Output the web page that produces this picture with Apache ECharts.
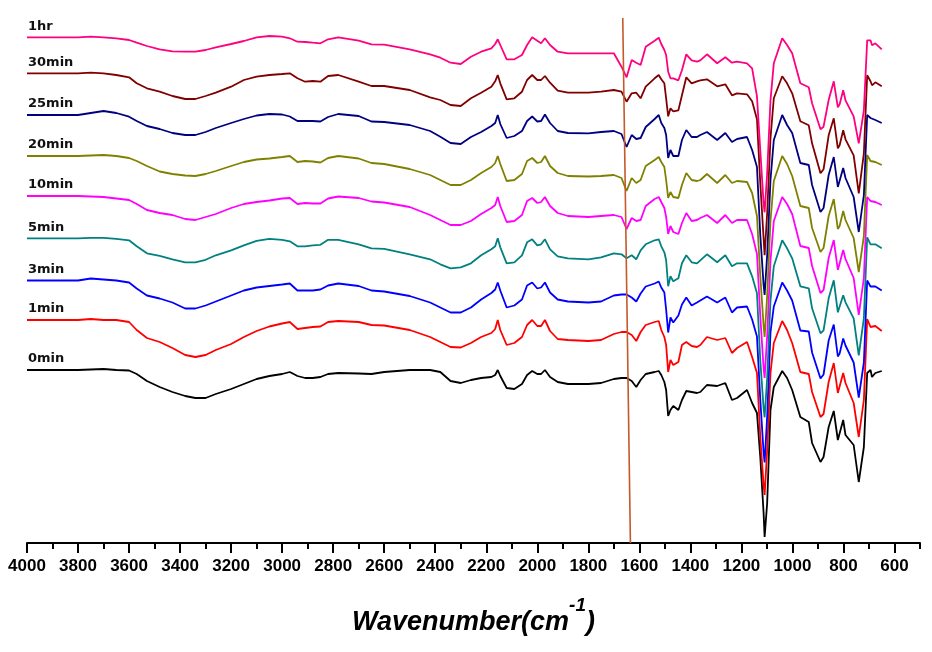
<!DOCTYPE html>
<html>
<head>
<meta charset="utf-8">
<script src="https://cdn.jsdelivr.net/npm/echarts@6.0.0/dist/echarts.min.js"></script>
<style>
html,body{margin:0;padding:0;background:#fff;}
#chart{width:932px;height:652px;}
</style>
</head>
<body>
<div id="chart"></div>
<script>
// Wavenumber sample points (cm-1)
const wavenumbers = [4000,3900,3800,3750,3700,3650,3600,3570,3530,3480,
3430,3380,3340,3300,3260,3200,3150,3100,3050,3000,
2970,2940,2910,2880,2850,2820,2780,2700,2650,2600,
2500,2420,2380,2340,2300,2260,2220,2180,2165,2155,
2145,2120,2090,2060,2040,2020,2000,1985,1970,1950,
1920,1880,1800,1750,1700,1670,1650,1630,1612,1595,
1575,1540,1524,1514,1502,1495,1487,1478,1467,1447,
1433,1416,1395,1374,1361,1335,1295,1263,1237,1217,
1178,1158,1139,1126,1113,1109,1099,1086,1073,1040,
1021,1001,969,936,923,890,878,858,838,822,
815,801,792,760,740,720,707,694,688,675,
650];

// Series names (reaction time) and stacking offsets (baseline level of each trace)
const seriesNames = ['0min','1min','3min','5min','10min','20min','25min','30min','1hr'];
const baselines = [173, 223, 262.5, 304.7, 347, 387, 428, 469.7, 505.7];

// Relative transmittance of each trace (same units as offsets)
const t0min = [0,0,0,0.5,1,0,-0.5,-4,-11,-17,
-22,-26,-28,-28,-24,-19,-14,-9,-6,-4,
-2,-6,-8,-8,-7,-4,-3,-3.5,-4,-2,
0,0,-2,-11,-13,-10,-8,-7,-5,0,
-6,-18,-19,-14,-5,-1,-4,-4,0,-7,
-12,-14,-14,-13,-9,-8,-8,-11,-17,-10,
-4,-2,-1,-5,-12,-20,-46,-40,-36,-40,
-30,-21,-22,-23,-22,-15,-16,-13,-30,-28,
-20,-33,-43,-87,-143,-167,-133,-40,-17,-1,
-8,-20,-47,-52,-73,-92,-87,-57,-41,-70,
-72,-50,-65,-75,-112,-77,-3,0,-7,-3,
-1];
const t1min = [0,0,0,1,0,0,-2,-10,-18,-22,
-28,-35,-37,-35,-30,-24,-17,-11,-6.5,-3.5,
-2,-9,-8,-7,-6.5,-2,-1,-2,-5,-5.5,
-10,-17,-22,-27,-27.5,-23,-17,-13,-9,0,
-10,-25,-23,-17,-5,0,-6,-6,0,-11,
-19,-20,-21,-20,-14,-12,-12,-15,-21,-12,
-5,-2,-1,-10,-17,-25,-52,-40,-45,-42,
-25,-22,-26,-27,-25,-17,-20,-18,-33,-28,
-22,-37,-53,-117,-165,-175,-130,-53,-23,-1,
-10,-23,-52,-54,-72,-97,-94,-62,-43,-73,
-71,-53,-63,-83,-117,-80,1,-7,-7,-6,
-11];
const t3min = [0,0,0,2,1,0,-2,-8,-15,-18,
-22,-28,-28,-25,-21,-15,-10,-7,-5.5,-4,
-3,-10,-10,-10,-9,-5,-3,-5.5,-10,-11,
-15.5,-22,-27,-32,-32,-27,-19,-12.5,-9,-2,
-10,-27,-25,-19,-5,-2,-8,-7,-2,-12,
-19,-21,-22,-21,-15,-14,-14,-17,-21,-13,
-6,-3,-1,-7,-12,-29,-52,-37,-42,-35,
-24,-17,-25,-22,-20,-16,-22,-17,-32,-27,
-26,-39,-56,-119,-172,-182,-136,-52,-26,-2,
-10,-20,-50,-51,-72,-98,-94,-60,-44,-76,
-73,-58,-65,-82,-117,-82,0,-6,-4,-6,
-10];
const t5min = [0,0,0,0.5,0.5,-0.5,-2,-8,-15,-17.5,
-21,-24,-24,-21.5,-17,-12,-7,-2.5,-0.5,-1.5,
-3,-8,-8,-7,-6.5,-1.5,-1.5,-6,-10,-10.5,
-16,-21,-26,-30,-29,-25,-17,-11,-8,0,
-9,-25,-24,-17,-4,-1,-7,-6,-1,-11,
-18,-20,-21,-19,-15,-16,-20,-17,-21,-12,
-6,-2,-1,-8,-14,-22,-48,-38,-43,-40,
-25,-17,-24,-25,-22,-16,-24,-17,-28,-25,
-25,-38,-55,-122,-170,-179,-140,-62,-28,-2,
-10,-20,-48,-50,-70,-95,-92,-60,-42,-74,
-72,-57,-64,-80,-117,-80,1,-6,-4,-6,
-10];
const t10min = [0,0,0,-0.5,-1,-2.5,-4,-8,-14,-17,
-19,-23,-24,-21,-18,-12,-8,-6,-4.5,-2.5,
-2,-8,-7,-7.5,-7.5,-2.5,-0.5,-2,-5.5,-6.5,
-11,-19,-24,-29,-29,-25,-18,-12,-9,-1,
-10,-26,-25,-19,-5,-2,-7,-6,-1,-10,
-17,-20,-21,-20,-19,-21,-33,-22,-25,-24,
-10,-3,-1,-6,-12,-21,-38,-30,-36,-38,
-27,-17,-25,-24,-22,-19,-27,-19,-27,-24,
-24,-38,-58,-120,-172,-182,-140,-65,-25,-1,
-8,-18,-50,-52,-70,-97,-94,-62,-44,-74,
-72,-54,-63,-82,-119,-82,-1,-5,-7,-6,
-9];
const t20min = [0,0,0,0.5,1,0,-2,-5,-10,-15.5,
-18,-19.5,-20,-18,-15,-10,-6,-3.5,-2.5,-1,
0,-6,-5,-5.5,-6.5,-2,0,-2.5,-7,-8,
-13,-19,-24,-29,-29,-24,-17,-11,-7,0,
-8,-25,-24,-18,-5,-2,-7,-6,0,-10,
-17,-20,-20.5,-20,-19,-22,-35,-22,-27,-24,
-10,-4,-1,-6,-11,-24,-42,-36,-41,-42,
-29,-17,-24,-25,-24,-18,-27,-19,-27,-25,
-26,-37,-60,-120,-170,-181,-140,-65,-25,0,
-8,-20,-50,-52,-72,-96,-92,-60,-43,-73,
-70,-55,-64,-82,-116,-80,1,-5,-6,-6,
-9];
const t25min = [0,0,0,2,4,2,-1.7,-6,-11,-14,
-18,-20,-20,-17,-13,-8,-4,-0.5,1,0.5,
-1.5,-6,-6,-6,-6.5,-2,1,-1,-6.5,-7,
-10,-16,-21.7,-28,-29,-22,-17,-11,-8,0,
-9,-23,-21,-16,-6,-1.5,-6.5,-6,0.5,-8,
-16,-18,-18.3,-17,-16,-19,-32,-20,-24,-23,
-12,-4,0,-8,-13,-20,-43,-35,-41,-41,
-25,-15,-22,-22,-20,-17,-25,-18,-27,-24,
-22,-35,-52,-120,-170,-180,-140,-65,-25,0,
-10,-18,-48,-50,-70,-97,-93,-60,-42,-72,
-70,-53,-63,-82,-117,-80,0,-3,-5,-5,
-8];
const t30min = [0,0,0,0.6,0,-1.7,-4,-10,-15,-18.4,
-22.7,-25.7,-25.7,-22.7,-19.4,-13.4,-6.7,-3.4,-1.7,-0.7,
0,-5,-8.4,-7.7,-8.4,-2.7,-1.7,-8.4,-12.7,-12.7,
-16.7,-24,-26.7,-31.7,-32.7,-25,-19.4,-13.4,-8,-1.7,
-10,-26,-25,-18.4,-6.7,-1.7,-6.7,-6.7,-2.7,-9.4,
-17.4,-19.4,-19.4,-18.4,-16.7,-18.4,-28.4,-20,-19.4,-25,
-13.4,-5,-1.7,-6,-10,-25,-43,-35,-38,-37,
-22,-4,-10,-8,-7,-6,-13,-11,-22,-20,
-21,-28,-46,-110,-165,-182,-140,-65,-25,-3,
-10,-20,-48,-52,-70,-100,-96,-62,-45,-75,
-72,-57,-66,-82,-120,-80,-2,-8,-12,-9,
-13];
const t1hr = [0,0,0,0.6,0,-1,-2.7,-5.4,-8.7,-12,
-14,-14.4,-14.4,-12.7,-10,-6.7,-3.7,0,1.3,0.6,
-1,-4.4,-4.7,-5.4,-6,-2,0,-3.4,-7,-7.4,
-12,-17,-20.4,-25.4,-26.7,-19.4,-14.4,-11,-6.7,-2,
-7.7,-22,-22,-17.7,-7.7,0,-3.4,-6,-1,-7.7,
-14.4,-16,-16,-16,-16,-29.4,-40,-22.7,-25.4,-27.7,
-9.4,-3.4,-0.4,-6.7,-12.7,-17.7,-34.4,-41,-41,-43,
-33,-17,-23,-24.4,-23,-17,-26,-20,-25.4,-24.4,
-26,-31,-59,-113,-166,-175,-136,-63,-26,-1,
-7.7,-16,-46,-50,-66,-92,-89.4,-62.7,-44,-70,
-67,-53,-63,-79,-106,-73,-3,-3,-8,-6,
-12];

const spectra = [t0min, t1min, t3min, t5min, t10min, t20min, t25min, t30min, t1hr];

// Reference marker line (slightly slanted, near 1650 cm-1)
const markerWavenumbers = [1665, 1635];
const markerLevels = [525, 0];

// Axis ticks and labels
const tickLabels = [4000,3800,3600,3400,3200,3000,2800,2600,2400,2200,2000,1800,1600,1400,1200,1000,800,600];
const minorTicks = [3900,3700,3500,3300,3100,2900,2700,2500,2300,2100,1900,1700,1500,1300,1100,900,700,500];

const colors = ['#000000','#ff0000','#0000ff','#008080','#ff00ff','#808000','#000080','#800000','#ff0080'];

const chart = echarts.init(document.getElementById('chart'), null, {renderer:'canvas'});

const series = spectra.map((arr, i) => ({
  type: 'line',
  name: seriesNames[i],
  data: wavenumbers.map((w, j) => [w, baselines[i] + arr[j]]),
  showSymbol: false,
  symbol: 'none',
  smooth: false,
  lineStyle: {color: colors[i], width: 1.8},
  itemStyle: {color: colors[i]},
  z: 2 + i,
  silent: true,
  markPoint: {
    symbol: 'circle',
    symbolSize: 0,
    silent: true,
    data: [{coord: [wavenumbers[0], baselines[i]], name: seriesNames[i]}],
    label: {
      show: true,
      position: 'right',
      distance: 1,
      offset: [0, -11],
      formatter: seriesNames[i],
      fontFamily: 'DejaVu Sans',
      fontWeight: 'bold',
      fontSize: 13,
      color: '#111'
    }
  }
}));

series.push({
  type: 'line',
  name: 'marker',
  data: markerWavenumbers.map((w, j) => [w, markerLevels[j]]),
  showSymbol: false,
  symbol: 'none',
  lineStyle: {color: '#c45a2c', width: 1.6},
  z: 20,
  silent: true
});

chart.setOption({
  animation: false,
  backgroundColor: '#ffffff',
  grid: {left: 27, right: 12, top: 0, bottom: 109, containLabel: false},
  xAxis: [
    {
      type: 'value', min: 500, max: 4000, inverse: true, position: 'bottom',
      axisLine: {show: true, onZero: false, lineStyle: {color: '#000', width: 2}},
      axisTick: {show: true, customValues: tickLabels, length: 10, inside: false, lineStyle: {color: '#000', width: 2}},
      axisLabel: {show: true, customValues: tickLabels, margin: 15, formatter: (v) => String(v), fontFamily: 'Liberation Sans', fontWeight: 'bold', fontSize: 17, color: '#000'},
      splitLine: {show: false},
      name: '{a|Wavenumber(cm}{b|-1}{a|)}',
      nameLocation: 'middle',
      nameGap: 53,
      nameTextStyle: {
        rich: {
          a: {fontFamily: 'Liberation Sans', fontWeight: 'bold', fontStyle: 'italic', fontSize: 27, color: '#000', lineHeight: 40, verticalAlign: 'bottom'},
          b: {fontFamily: 'Liberation Sans', fontWeight: 'bold', fontStyle: 'italic', fontSize: 19, color: '#000', lineHeight: 20, verticalAlign: 'top'}
        }
      }
    },
    {
      type: 'value', min: 500, max: 4000, inverse: true, position: 'bottom',
      axisLine: {show: false, onZero: false},
      axisTick: {show: true, customValues: minorTicks, length: 6, inside: false, lineStyle: {color: '#000', width: 2}},
      axisLabel: {show: false},
      splitLine: {show: false}
    }
  ],
  yAxis: {type: 'value', min: 0, max: 543, show: false},
  series: series
});
</script>
</body>
</html>
